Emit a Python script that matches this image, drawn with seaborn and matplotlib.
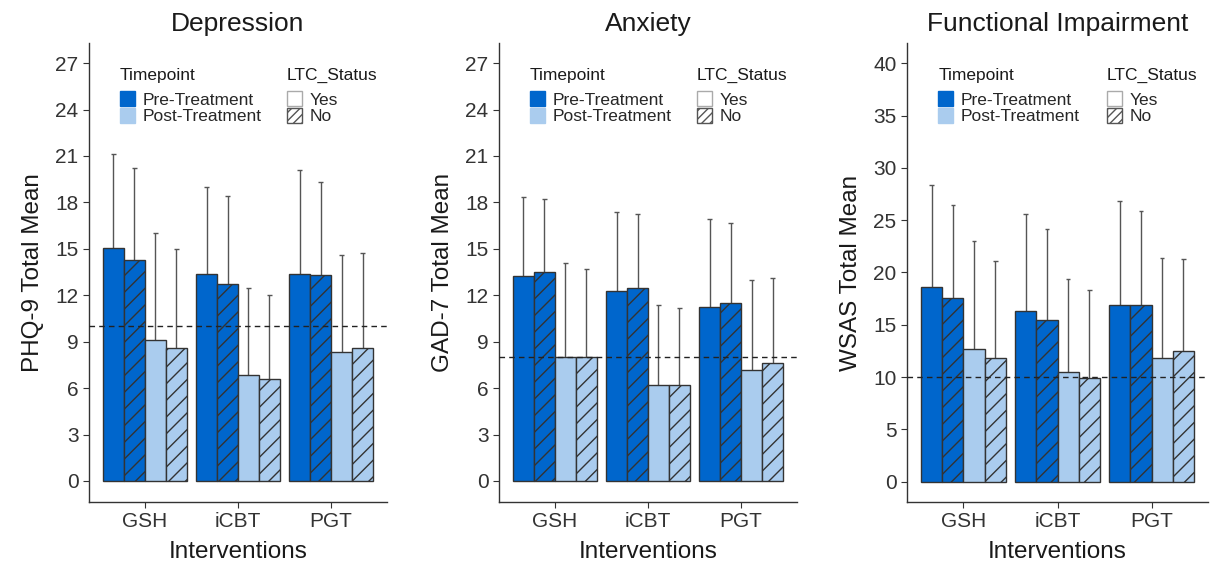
import pandas as pd
import seaborn as sns
import matplotlib.pyplot as plt
from matplotlib.patches import Patch

# Categories
interventions = ['GSH', 'iCBT', 'PGT']
timepoints = ['Pre-Treatment', 'Post-Treatment']
ltc_levels = ['Yes', 'No']
groups = ['Pre-Treatment|Yes', 'Pre-Treatment|No', 'Post-Treatment|Yes', 'Post-Treatment|No']

# Means per group (GSH, iCBT, PGT) and upper end of error bar (mean + SD)
phq_mean = {'Pre-Treatment|Yes': [15.05, 13.4, 13.4], 'Pre-Treatment|No': [14.3, 12.75, 13.3],
            'Post-Treatment|Yes': [9.1, 6.85, 8.35], 'Post-Treatment|No': [8.6, 6.6, 8.6]}
phq_upper = {'Pre-Treatment|Yes': [21.1, 19.0, 20.1], 'Pre-Treatment|No': [20.2, 18.4, 19.35],
             'Post-Treatment|Yes': [16.0, 12.45, 14.6], 'Post-Treatment|No': [15.0, 12.0, 14.75]}

gad_mean = {'Pre-Treatment|Yes': [13.25, 12.3, 11.25], 'Pre-Treatment|No': [13.5, 12.45, 11.5],
            'Post-Treatment|Yes': [8.0, 6.2, 7.2], 'Post-Treatment|No': [8.0, 6.2, 7.65]}
gad_upper = {'Pre-Treatment|Yes': [18.35, 17.35, 16.9], 'Pre-Treatment|No': [18.25, 17.25, 16.65],
             'Post-Treatment|Yes': [14.1, 11.35, 13.0], 'Post-Treatment|No': [13.7, 11.15, 13.1]}

wsas_mean = {'Pre-Treatment|Yes': [18.58, 16.35, 16.9], 'Pre-Treatment|No': [17.6, 15.5, 16.9],
             'Post-Treatment|Yes': [12.7, 10.45, 11.8], 'Post-Treatment|No': [11.8, 9.9, 12.5]}
wsas_upper = {'Pre-Treatment|Yes': [28.4, 25.6, 26.8], 'Pre-Treatment|No': [26.5, 24.15, 25.9],
              'Post-Treatment|Yes': [23.0, 19.35, 21.35], 'Post-Treatment|No': [21.1, 18.3, 21.3]}

titles = ['Depression', 'Anxiety', 'Functional Impairment']
ylabels = ['PHQ-9 Total Mean', 'GAD-7 Total Mean', 'WSAS Total Mean']
cutoffs = [10, 8, 10]
yticks = [list(range(0, 28, 3)), list(range(0, 28, 3)), list(range(0, 41, 5))]
ylims = [(-1.36, 28.3), (-1.36, 28.3), (-1.94, 41.94)]

dark_blue = '#0066CC'
light_blue = '#AACCEE'
palette = {'Pre-Treatment|Yes': dark_blue, 'Pre-Treatment|No': dark_blue,
           'Post-Treatment|Yes': light_blue, 'Post-Treatment|No': light_blue}

sns.set_style('white')
plt.rcParams['font.family'] = ['Liberation Sans', 'DejaVu Sans']
plt.rcParams['hatch.linewidth'] = 1.0

fig = plt.figure(figsize=(12.11, 5.65), dpi=100)
lefts = [89, 499, 907]
rights = [387, 797, 1208]
axes = [fig.add_axes([l / 1211, 1 - 502 / 565, (r - l) / 1211, (502 - 43) / 565])
        for l, r in zip(lefts, rights)]

panels = [(phq_mean, phq_upper), (gad_mean, gad_upper), (wsas_mean, wsas_upper)]

for i, ax in enumerate(axes):
    means, uppers = panels[i]
    rows = []
    for g in groups:
        for k, iv in enumerate(interventions):
            rows.append({'Intervention': iv, 'Group': g, 'Mean': means[g][k], 'Upper': uppers[g][k]})
    df = pd.DataFrame(rows)

    sns.barplot(data=df, x='Intervention', y='Mean', hue='Group', order=interventions,
                hue_order=groups, palette=palette, width=0.9, gap=0, saturation=1,
                edgecolor='#333333', linewidth=1, errorbar=None, legend=False, ax=ax, zorder=3)

    # hatching for LTC = No, and upper error bars
    for g, cont in zip(groups, ax.containers):
        for k, bar in enumerate(cont):
            if g.endswith('|No'):
                bar.set_hatch('//')
            xc = bar.get_x() + bar.get_width() / 2
            top = uppers[g][k]
            ax.vlines(xc, bar.get_height(), top, color='#555555', lw=1, zorder=2)
            ax.hlines(top, xc - 0.025, xc + 0.025, color='#555555', lw=1, zorder=2)

    ax.axhline(cutoffs[i], color='#222222', lw=1, ls=(0, (4, 3)), zorder=4)

    ax.set_xlim(0.4 - 1, 3.6 - 1)
    ax.set_ylim(*ylims[i])
    ax.set_yticks(yticks[i])
    ax.set_title(titles[i], fontsize=19, pad=9, color='#1a1a1a')
    ax.set_xlabel('Interventions', fontsize=17.5, labelpad=7, color='#1a1a1a')
    ax.set_ylabel(ylabels[i], fontsize=17.5, labelpad=8, color='#1a1a1a')
    ax.tick_params(axis='both', labelsize=15, colors='#333333', length=4, width=0.8,
                   direction='out', left=True, bottom=True)
    for side in ['top', 'right']:
        ax.spines[side].set_visible(False)
    for side in ['left', 'bottom']:
        ax.spines[side].set_color('#333333')
        ax.spines[side].set_linewidth(1)

    # legends: titles as text, keys as title-less legends
    leg_kw = dict(loc='upper left', frameon=False, fontsize=12.5, labelspacing=0,
                  handlelength=0.85, handleheight=0.95, handletextpad=0.45,
                  borderaxespad=0, borderpad=0)
    ax.text(0.104, 0.930, 'Timepoint', transform=ax.transAxes, fontsize=12.5,
            va='center', ha='left', color='#1a1a1a')
    h1 = [Patch(facecolor=dark_blue, edgecolor=dark_blue, label='Pre-Treatment'),
          Patch(facecolor=light_blue, edgecolor=light_blue, label='Post-Treatment')]
    leg1 = ax.legend(handles=h1, bbox_to_anchor=(0.104, 0.895), **leg_kw)
    ax.add_artist(leg1)

    ax.text(0.664, 0.930, 'LTC_Status', transform=ax.transAxes, fontsize=12.5,
            va='center', ha='left', color='#1a1a1a')
    h2 = [Patch(facecolor='white', edgecolor='#aaaaaa', label='Yes'),
          Patch(facecolor='white', edgecolor='#555555', hatch='////', label='No')]
    ax.legend(handles=h2, bbox_to_anchor=(0.664, 0.895), **leg_kw)

fig.savefig('out.png', dpi=100)
